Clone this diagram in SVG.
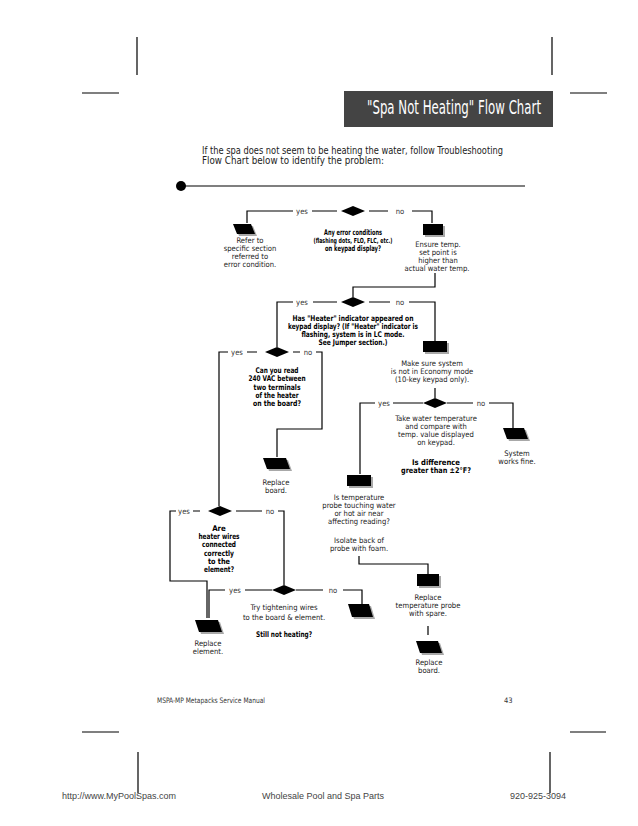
<svg xmlns="http://www.w3.org/2000/svg" width="638" height="826" viewBox="0 0 638 826">
<style>
.t{font-family:"DejaVu Sans Condensed","Liberation Sans Narrow","Liberation Sans",sans-serif;font-size:7.6px;fill:#222;text-anchor:middle}
.b{font-family:"DejaVu Sans Condensed","Liberation Sans Narrow","Liberation Sans",sans-serif;font-size:7.8px;font-weight:bold;fill:#000;text-anchor:middle}
.lab{font-family:"DejaVu Sans Condensed","Liberation Sans Narrow","Liberation Sans",sans-serif;font-size:7.6px;fill:#333;text-anchor:middle}
.ln{fill:none;stroke:#000;stroke-width:1.2}
.sh{fill:#a8a8a8}
.blk{fill:#000}
.foot{font-family:"Liberation Sans",Arial,sans-serif;font-size:9px;fill:#444}
.ft{font-family:"DejaVu Sans Condensed","Liberation Sans",sans-serif;font-size:7.5px;fill:#333}
.intro{font-family:"DejaVu Sans Condensed","Liberation Sans",sans-serif;font-size:10px;fill:#222}
</style>
<rect width="638" height="826" fill="#fff"/>
<g id="cropmarks" class="ln">
<path d="M137,37V75M82,93H119M552,37V75M570,93H607M82,732H119M138,752V793M570,732H606M550,752V793"/>
</g>
<g id="title">
<rect x="344" y="91" width="209" height="36" fill="#444"/>
<text x="367" y="114" font-family="DejaVu Sans Condensed,Liberation Sans,sans-serif" font-size="20" fill="#fff" textLength="174" lengthAdjust="spacingAndGlyphs">"Spa Not Heating" Flow Chart</text>
</g>
<g id="intro">
<text class="intro" x="202" y="154" textLength="301" lengthAdjust="spacingAndGlyphs">If the spa does not seem to be heating the water, follow Troubleshooting</text>
<text class="intro" x="202" y="164" textLength="182" lengthAdjust="spacingAndGlyphs">Flow Chart below to identify the problem:</text>
<circle cx="181" cy="186" r="5" fill="#000"/>
<path class="ln" d="M181,186H525"/>
</g>
<g id="connectors" class="ln">
<path d="M337,211H312M293,211H247V223M369,211H388M412,211H432V223"/>
<path d="M435,273V287H353V297"/>
<path d="M337,302H313M293,302H277V347M369,302H390M409,302H435V341"/>
<path d="M257,352H247M228,352H219V506M293,352H300M316,352H322V429H277V457"/>
<path d="M200,511H193M176,511H170V581H207V618M236,511H262M278,511H284V585"/>
<path d="M272,590H245M225,590H209V618M296,590H323M343,590H362V604"/>
<path d="M435,388V398M423,403H393M375,403H360V474M447,403H473M489,403H513V428"/>
<path d="M359,556V564H428V574M428,626V635"/>
</g>
<g id="labels">
<text class="lab" x="302" y="214">yes</text>
<text class="lab" x="400" y="214">no</text>
<text class="lab" x="302" y="305">yes</text>
<text class="lab" x="400" y="305">no</text>
<text class="lab" x="237" y="355">yes</text>
<text class="lab" x="308" y="355">no</text>
<text class="lab" x="184" y="514">yes</text>
<text class="lab" x="270" y="514">no</text>
<text class="lab" x="235" y="593">yes</text>
<text class="lab" x="333" y="593">no</text>
<text class="lab" x="384" y="406">yes</text>
<text class="lab" x="481" y="406">no</text>
</g>
<g id="d1">
<polygon class="blk" points="341,211 353,206 365,211 353,216"/>
<text class="b" x="353" y="235" textLength="58" lengthAdjust="spacingAndGlyphs">Any error conditions</text>
<text class="b" x="353" y="243" font-size="7" style="font-size:7px" textLength="79" lengthAdjust="spacingAndGlyphs">(flashing dots, FLO, FLC, etc.)</text>
<text class="b" x="353" y="251" textLength="56" lengthAdjust="spacingAndGlyphs">on keypad display?</text>
</g>
<g id="refer">
<polygon class="sh" points="235,226 253,226 257,236 239,236"/>
<polygon class="blk" points="233,224 251,224 255,234 237,234"/>
<text class="t" x="250" y="243">Refer to</text>
<text class="t" x="250" y="251">specific section</text>
<text class="t" x="250" y="259">referred to</text>
<text class="t" x="250" y="267">error condition.</text>
</g>
<g id="ensure">
<rect class="sh" x="425" y="226" width="20" height="11"/>
<rect class="blk" x="423" y="224" width="20" height="11"/>
<text class="t" x="438" y="247">Ensure temp.</text>
<text class="t" x="438" y="255">set point is</text>
<text class="t" x="438" y="263">higher than</text>
<text class="t" x="437" y="271">actual water temp.</text>
</g>
<g id="d2">
<polygon class="blk" points="341,302 353,297 365,302 353,307"/>
<text class="b" x="353" y="321" textLength="121" lengthAdjust="spacingAndGlyphs">Has "Heater" indicator appeared on</text>
<text class="b" x="353" y="329" textLength="130" lengthAdjust="spacingAndGlyphs">keypad display? (If "Heater" indicator is</text>
<text class="b" x="353" y="337" textLength="103" lengthAdjust="spacingAndGlyphs">flashing, system is in LC mode.</text>
<text class="b" x="353" y="345" textLength="69" lengthAdjust="spacingAndGlyphs">See Jumper section.)</text>
</g>
<g id="economy">
<rect class="sh" x="425" y="343" width="24" height="11"/>
<rect class="blk" x="423" y="341" width="24" height="11"/>
<text class="t" x="432" y="366">Make sure system</text>
<text class="t" x="432" y="374">is not in Economy mode</text>
<text class="t" x="432" y="382">(10-key keypad only).</text>
</g>
<g id="d3">
<polygon class="blk" points="265,352 277,347 289,352 277,357"/>
<text class="b" x="277" y="373" textLength="43" lengthAdjust="spacingAndGlyphs">Can you read</text>
<text class="b" x="277" y="381" textLength="57" lengthAdjust="spacingAndGlyphs">240 VAC between</text>
<text class="b" x="277" y="390" textLength="47" lengthAdjust="spacingAndGlyphs">two terminals</text>
<text class="b" x="277" y="398" textLength="43" lengthAdjust="spacingAndGlyphs">of the heater</text>
<text class="b" x="277" y="406" textLength="48" lengthAdjust="spacingAndGlyphs">on the board?</text>
</g>
<g id="board1">
<polygon class="sh" points="265,460 288,460 292,471 269,471"/>
<polygon class="blk" points="263,458 286,458 290,469 267,469"/>
<text class="t" x="276" y="485">Replace</text>
<text class="t" x="276" y="493">board.</text>
</g>
<g id="d6">
<polygon class="blk" points="423,403 435,398 447,403 435,408"/>
<text class="t" x="436" y="421">Take water temperature</text>
<text class="t" x="436" y="429">and compare with</text>
<text class="t" x="436" y="437">temp. value displayed</text>
<text class="t" x="436" y="445">on keypad.</text>
<text class="b" x="436" y="465" textLength="48" lengthAdjust="spacingAndGlyphs">Is difference</text>
<text class="b" x="436" y="473" textLength="70" lengthAdjust="spacingAndGlyphs">greater than ±2°F?</text>
</g>
<g id="fine">
<polygon class="sh" points="505,430 526,430 530,441 509,441"/>
<polygon class="blk" points="503,428 524,428 528,439 507,439"/>
<text class="t" x="517" y="456">System</text>
<text class="t" x="517" y="464">works fine.</text>
</g>
<g id="probe">
<rect class="sh" x="349" y="477" width="24" height="11"/>
<rect class="blk" x="347" y="475" width="24" height="11"/>
<text class="t" x="359" y="500">Is temperature</text>
<text class="t" x="359" y="508">probe touching water</text>
<text class="t" x="359" y="516">or hot air near</text>
<text class="t" x="359" y="524">affecting reading?</text>
<text class="t" x="359" y="543">Isolate back of</text>
<text class="t" x="359" y="551">probe with foam.</text>
</g>
<g id="d4">
<polygon class="blk" points="208,511 220,506 232,511 220,516"/>
<text class="b" x="219" y="531">Are</text>
<text class="b" x="219" y="539" textLength="41" lengthAdjust="spacingAndGlyphs">heater wires</text>
<text class="b" x="219" y="547" textLength="34" lengthAdjust="spacingAndGlyphs">connected</text>
<text class="b" x="219" y="556" textLength="30" lengthAdjust="spacingAndGlyphs">correctly</text>
<text class="b" x="219" y="564" textLength="22" lengthAdjust="spacingAndGlyphs">to the</text>
<text class="b" x="219" y="572" textLength="30" lengthAdjust="spacingAndGlyphs">element?</text>
</g>
<g id="d5">
<polygon class="blk" points="272,590 284,585 296,590 284,595"/>
<text class="t" x="284" y="610">Try tightening wires</text>
<text class="t" x="284" y="620">to the board &amp; element.</text>
<text class="b" x="284" y="637" textLength="56" lengthAdjust="spacingAndGlyphs">Still not heating?</text>
</g>
<g id="nobox">
<polygon class="sh" points="350,606 371,606 375,619 354,619"/>
<polygon class="blk" points="348,604 369,604 373,617 352,617"/>
</g>
<g id="element">
<polygon class="sh" points="197,622 220,622 224,634 201,634"/>
<polygon class="blk" points="195,620 218,620 222,632 199,632"/>
<text class="t" x="208" y="646">Replace</text>
<text class="t" x="208" y="654">element.</text>
</g>
<g id="replprobe">
<rect class="sh" x="419" y="576" width="22" height="12"/>
<rect class="blk" x="417" y="574" width="22" height="12"/>
<text class="t" x="428" y="600">Replace</text>
<text class="t" x="428" y="608">temperature probe</text>
<text class="t" x="428" y="616">with spare.</text>
</g>
<g id="board2">
<polygon class="sh" points="418,643 440,643 444,655 422,655"/>
<polygon class="blk" points="416,641 438,641 442,653 420,653"/>
<text class="t" x="429" y="665">Replace</text>
<text class="t" x="429" y="673">board.</text>
</g>
<g id="footer">
<text class="ft" x="157" y="703" textLength="108" lengthAdjust="spacingAndGlyphs">MSPA-MP Metapacks Service Manual</text>
<text class="ft" x="504" y="703">43</text>
<text class="foot" x="62" y="799">http://www.MyPoolSpas.com</text>
<text class="foot" x="262" y="799">Wholesale Pool and Spa Parts</text>
<text class="foot" x="510" y="799">920-925-3094</text>
</g>
</svg>
